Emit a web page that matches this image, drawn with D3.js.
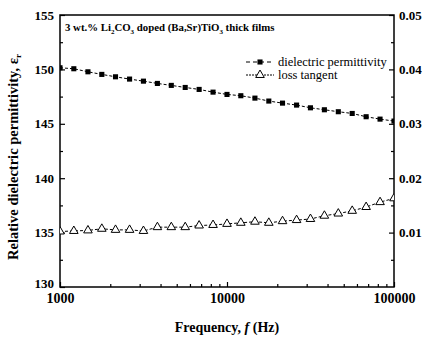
<!DOCTYPE html>
<html><head><meta charset="utf-8">
<script src="https://cdn.jsdelivr.net/npm/d3@7/dist/d3.min.js"></script>
<style>
html,body{margin:0;padding:0;background:#fff;}
svg{display:block;font-family:"Liberation Serif","Times New Roman",serif;}
</style></head>
<body><svg id="c" width="425" height="338"></svg>
<script>
const freqs = [1000, 1210, 1470, 1780, 2150, 2610, 3160, 3830, 4640, 5620, 6810, 8250, 10000,
  12100, 14700, 17800, 21500, 26100, 31600, 38300, 46400, 56200, 68100, 82500, 100000];
const permittivity = [150.15, 150.06, 149.78, 149.54, 149.32, 149.11, 148.92, 148.71, 148.53, 148.34,
  148.16, 147.91, 147.70, 147.58, 147.36, 147.09, 146.90, 146.72, 146.47, 146.29, 146.11, 145.95,
  145.65, 145.43, 145.25];
const lossTangent = [0.0102, 0.0103, 0.0104, 0.0107, 0.0105, 0.0105, 0.0103, 0.0110, 0.0110, 0.0110,
  0.0113, 0.0114, 0.0116, 0.0118, 0.0120, 0.0118, 0.0121, 0.0123, 0.0125, 0.0131, 0.0135, 0.0140,
  0.0147, 0.0156, 0.0163];
const leftTicks = [130, 135, 140, 145, 150, 155];
const leftMinor = [132.5, 137.5, 142.5, 147.5, 152.5];
const rightTicks = [0.01, 0.02, 0.03, 0.04, 0.05];
const rightMinor = [0.005, 0.015, 0.025, 0.035, 0.045];
const xTicks = [1000, 10000, 100000];
const xMinor = [2000,3000,4000,5000,6000,7000,8000,9000,20000,30000,40000,50000,60000,70000,80000,90000];
const seriesNames = ["dielectric permittivity", "loss tangent"];

const svg = d3.select("#c");
const L = 60, R = 394, T = 15, B = 287;
const x = d3.scaleLog().domain([1000, 100000]).range([L, R]);
const yL = d3.scaleLinear().domain([130, 155]).range([B, T]);
const yR = d3.scaleLinear().domain([0, 0.05]).range([B, T]);

svg.append("defs").append("clipPath").attr("id","clip")
  .append("rect").attr("x",L).attr("y",T).attr("width",R-L).attr("height",B-T);

function styleAxis(g){ g.select(".domain").remove(); g.selectAll("line").attr("stroke","#000").attr("stroke-width",1.2); }

// left axis
svg.append("g").attr("transform",`translate(${L},0)`)
  .call(d3.axisLeft(yL).tickValues(leftTicks).tickSize(-5).tickPadding(6).tickFormat(d3.format("d")))
  .call(styleAxis)
  .call(g=>g.selectAll("text").attr("font-size",13).attr("font-weight","bold").attr("font-family","Liberation Serif").attr("fill","#000"))
  .call(g=>g.selectAll(".tick").filter(d=>d===130).select("text").attr("dy","0.05em"));
svg.append("g").attr("transform",`translate(${L},0)`)
  .call(d3.axisLeft(yL).tickValues(leftMinor).tickSize(-3).tickFormat(""))
  .call(styleAxis);
// right axis
svg.append("g").attr("transform",`translate(${R},0)`)
  .call(d3.axisRight(yR).tickValues(rightTicks).tickSize(-5).tickPadding(5).tickFormat(d3.format(".2f")))
  .call(styleAxis)
  .call(g=>g.selectAll("text").attr("font-size",13).attr("font-weight","bold").attr("font-family","Liberation Serif").attr("fill","#000"));
svg.append("g").attr("transform",`translate(${R},0)`)
  .call(d3.axisRight(yR).tickValues(rightMinor).tickSize(-3).tickFormat(""))
  .call(styleAxis);
// bottom axis
svg.append("g").attr("transform",`translate(0,${B})`)
  .call(d3.axisBottom(x).tickValues(xTicks).tickSize(-5).tickPadding(6).tickFormat(d3.format("d")))
  .call(styleAxis)
  .call(g=>g.selectAll("text").attr("font-size",14).attr("font-weight","bold").attr("font-family","Liberation Serif").attr("fill","#000"));
svg.append("g").attr("transform",`translate(0,${B})`)
  .call(d3.axisBottom(x).tickValues(xMinor).tickSize(-3).tickFormat(""))
  .call(styleAxis);

// frame
svg.append("rect").attr("x",L).attr("y",T).attr("width",R-L).attr("height",B-T)
  .attr("fill","none").attr("stroke","#000").attr("stroke-width",1.5);

const plot = svg.append("g").attr("clip-path","url(#clip)");
const pts1 = freqs.map((f,i)=>[f, permittivity[i]]);
const pts2 = freqs.map((f,i)=>[f, lossTangent[i]]);
plot.append("path").datum(pts1)
  .attr("d", d3.line().x(d=>x(d[0])).y(d=>yL(d[1])))
  .attr("fill","none").attr("stroke","#000").attr("stroke-width",1).attr("stroke-dasharray","3,2");
plot.append("path").datum(pts2)
  .attr("d", d3.line().x(d=>x(d[0])).y(d=>yR(d[1])))
  .attr("fill","none").attr("stroke","#000").attr("stroke-width",1).attr("stroke-dasharray","3,2");
const sq = d3.symbol().type(d3.symbolSquare).size(26);
const tri = d3.symbol().type(d3.symbolTriangle).size(32);
plot.selectAll(".sq").data(pts1).join("path")
  .attr("transform",d=>`translate(${x(d[0])},${yL(d[1])})`).attr("d",sq).attr("fill","#000");
plot.selectAll(".tr").data(pts2).join("path")
  .attr("transform",d=>`translate(${x(d[0])},${yR(d[1])})`).attr("d",tri)
  .attr("fill","#fff").attr("stroke","#000").attr("stroke-width",1);

// annotation
const ann = svg.append("text").attr("x",65).attr("y",31).attr("font-size",10.8).attr("font-weight","bold").attr("fill","#000");
ann.append("tspan").text("3 wt.% Li");
ann.append("tspan").attr("font-size",7).attr("dy",3).text("2");
ann.append("tspan").attr("dy",-3).text("CO");
ann.append("tspan").attr("font-size",7).attr("dy",3).text("3");
ann.append("tspan").attr("dy",-3).text(" doped (Ba,Sr)TiO");
ann.append("tspan").attr("font-size",7).attr("dy",3).text("3");
ann.append("tspan").attr("dy",-3).text(" thick films");

// legend
const lg = svg.append("g");
[[66, sq, "#000"], [79, tri, "#fff"]].forEach((p,i)=>{
  const yy = p[0]-4;
  lg.append("line").attr("x1",246).attr("x2",274).attr("y1",yy).attr("y2",yy)
    .attr("stroke","#000").attr("stroke-width",1).attr("stroke-dasharray", i===0 ? "4,3" : "2,1");
  lg.append("path").attr("transform",`translate(260,${yy})`).attr("d",p[1])
    .attr("fill",p[2]).attr("stroke", i===0 ? "none" : "#000");
  lg.append("text").attr("x",278).attr("y",p[0]).attr("font-size",12.5).attr("fill","#000").text(seriesNames[i]);
});

// axis titles
const xt = svg.append("text").attr("x",(L+R)/2).attr("y",332).attr("text-anchor","middle")
  .attr("font-size",14).attr("font-weight","bold").attr("fill","#000");
xt.append("tspan").text("Frequency, ");
xt.append("tspan").attr("font-style","italic").text("f");
xt.append("tspan").text(" (Hz)");

const yt = svg.append("text").attr("transform",`translate(18,157) rotate(-90)`).attr("text-anchor","middle")
  .attr("font-size",14.5).attr("font-weight","bold").attr("fill","#000");
yt.append("tspan").text("Relative dielectric permittivity, ε");
yt.append("tspan").attr("font-size",9).attr("dy",3).text("r");
</script></body></html>
